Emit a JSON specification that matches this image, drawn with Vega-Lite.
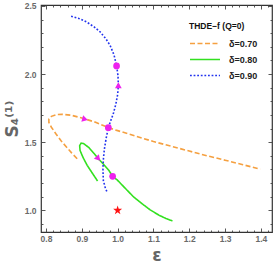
{
  "$schema": "https://vega.github.io/schema/vega-lite/v6.json",
  "width": 231,
  "height": 227,
  "autosize": "none",
  "padding": {"left": 41, "top": 5, "right": 1, "bottom": 41},
  "background": "white",
  "config": {
    "view": {"stroke": "#333333", "strokeWidth": 1.2},
    "axis": {
      "domain": false,
      "grid": false,
      "ticks": true,
      "labelOverlap": false,
      "labelFont": "Liberation Sans",
      "labelFontWeight": "bold",
      "labelFontSize": 8.5,
      "labelColor": "#6a6a6a",
      "tickColor": "#444444",
      "tickWidth": 0.9,
      "titleFont": "DejaVu Sans",
      "titleColor": "#666666",
      "titleFontWeight": "bold"
    }
  },
  "datasets": {
    "curves": [
      {"delta": "δ=0.70", "i": 1, "eps": 0.887, "s4": 1.379},
      {"delta": "δ=0.70", "i": 2, "eps": 0.872, "s4": 1.42},
      {"delta": "δ=0.70", "i": 3, "eps": 0.857, "s4": 1.465},
      {"delta": "δ=0.70", "i": 4, "eps": 0.842, "s4": 1.51},
      {"delta": "δ=0.70", "i": 5, "eps": 0.828, "s4": 1.56},
      {"delta": "δ=0.70", "i": 6, "eps": 0.815, "s4": 1.61},
      {"delta": "δ=0.70", "i": 7, "eps": 0.808, "s4": 1.645},
      {"delta": "δ=0.70", "i": 8, "eps": 0.808, "s4": 1.67},
      {"delta": "δ=0.70", "i": 9, "eps": 0.815, "s4": 1.69},
      {"delta": "δ=0.70", "i": 10, "eps": 0.83, "s4": 1.703},
      {"delta": "δ=0.70", "i": 11, "eps": 0.845, "s4": 1.705},
      {"delta": "δ=0.70", "i": 12, "eps": 0.87, "s4": 1.698},
      {"delta": "δ=0.70", "i": 13, "eps": 0.9, "s4": 1.678},
      {"delta": "δ=0.70", "i": 14, "eps": 0.94, "s4": 1.645},
      {"delta": "δ=0.70", "i": 15, "eps": 0.974, "s4": 1.607},
      {"delta": "δ=0.70", "i": 16, "eps": 1.0, "s4": 1.585},
      {"delta": "δ=0.70", "i": 17, "eps": 1.05, "s4": 1.545},
      {"delta": "δ=0.70", "i": 18, "eps": 1.1, "s4": 1.505},
      {"delta": "δ=0.70", "i": 19, "eps": 1.15, "s4": 1.47},
      {"delta": "δ=0.70", "i": 20, "eps": 1.2, "s4": 1.435},
      {"delta": "δ=0.70", "i": 21, "eps": 1.25, "s4": 1.4},
      {"delta": "δ=0.70", "i": 22, "eps": 1.3, "s4": 1.368},
      {"delta": "δ=0.70", "i": 23, "eps": 1.35, "s4": 1.335},
      {"delta": "δ=0.70", "i": 24, "eps": 1.398, "s4": 1.302},
      {"delta": "δ=0.80", "i": 1, "eps": 0.944, "s4": 1.215},
      {"delta": "δ=0.80", "i": 2, "eps": 0.93, "s4": 1.27},
      {"delta": "δ=0.80", "i": 3, "eps": 0.915, "s4": 1.33},
      {"delta": "δ=0.80", "i": 4, "eps": 0.903, "s4": 1.39},
      {"delta": "δ=0.80", "i": 5, "eps": 0.895, "s4": 1.44},
      {"delta": "δ=0.80", "i": 6, "eps": 0.894, "s4": 1.475},
      {"delta": "δ=0.80", "i": 7, "eps": 0.898, "s4": 1.493},
      {"delta": "δ=0.80", "i": 8, "eps": 0.905, "s4": 1.49},
      {"delta": "δ=0.80", "i": 9, "eps": 0.92, "s4": 1.46},
      {"delta": "δ=0.80", "i": 10, "eps": 0.935, "s4": 1.415},
      {"delta": "δ=0.80", "i": 11, "eps": 0.946, "s4": 1.379},
      {"delta": "δ=0.80", "i": 12, "eps": 0.96, "s4": 1.34},
      {"delta": "δ=0.80", "i": 13, "eps": 0.975, "s4": 1.295},
      {"delta": "δ=0.80", "i": 14, "eps": 0.986, "s4": 1.25},
      {"delta": "δ=0.80", "i": 15, "eps": 1.0, "s4": 1.22},
      {"delta": "δ=0.80", "i": 16, "eps": 1.02, "s4": 1.165},
      {"delta": "δ=0.80", "i": 17, "eps": 1.044, "s4": 1.1},
      {"delta": "δ=0.80", "i": 18, "eps": 1.07, "s4": 1.045},
      {"delta": "δ=0.80", "i": 19, "eps": 1.09, "s4": 1.005},
      {"delta": "δ=0.80", "i": 20, "eps": 1.115, "s4": 0.965},
      {"delta": "δ=0.80", "i": 21, "eps": 1.135, "s4": 0.94},
      {"delta": "δ=0.80", "i": 22, "eps": 1.153, "s4": 0.922},
      {"delta": "δ=0.90", "i": 1, "eps": 0.87, "s4": 2.424},
      {"delta": "δ=0.90", "i": 2, "eps": 0.89, "s4": 2.41},
      {"delta": "δ=0.90", "i": 3, "eps": 0.913, "s4": 2.383},
      {"delta": "δ=0.90", "i": 4, "eps": 0.935, "s4": 2.345},
      {"delta": "δ=0.90", "i": 5, "eps": 0.951, "s4": 2.31},
      {"delta": "δ=0.90", "i": 6, "eps": 0.967, "s4": 2.26},
      {"delta": "δ=0.90", "i": 7, "eps": 0.979, "s4": 2.21},
      {"delta": "δ=0.90", "i": 8, "eps": 0.99, "s4": 2.14},
      {"delta": "δ=0.90", "i": 9, "eps": 0.997, "s4": 2.06},
      {"delta": "δ=0.90", "i": 10, "eps": 1.001, "s4": 1.99},
      {"delta": "δ=0.90", "i": 11, "eps": 1.002, "s4": 1.918},
      {"delta": "δ=0.90", "i": 12, "eps": 1.0, "s4": 1.85},
      {"delta": "δ=0.90", "i": 13, "eps": 0.995, "s4": 1.78},
      {"delta": "δ=0.90", "i": 14, "eps": 0.988, "s4": 1.71},
      {"delta": "δ=0.90", "i": 15, "eps": 0.981, "s4": 1.66},
      {"delta": "δ=0.90", "i": 16, "eps": 0.974, "s4": 1.607},
      {"delta": "δ=0.90", "i": 17, "eps": 0.968, "s4": 1.53},
      {"delta": "δ=0.90", "i": 18, "eps": 0.963, "s4": 1.45},
      {"delta": "δ=0.90", "i": 19, "eps": 0.96, "s4": 1.37},
      {"delta": "δ=0.90", "i": 20, "eps": 0.959, "s4": 1.3},
      {"delta": "δ=0.90", "i": 21, "eps": 0.96, "s4": 1.22},
      {"delta": "δ=0.90", "i": 22, "eps": 0.966, "s4": 1.16},
      {"delta": "δ=0.90", "i": 23, "eps": 0.972, "s4": 1.127}
    ],
    "dots": [
      {"eps": 0.997, "s4": 2.06},
      {"eps": 0.974, "s4": 1.607},
      {"eps": 0.986, "s4": 1.25}
    ],
    "arrows": [
      {"eps": 1.002, "s4": 1.918, "heading": 0},
      {"eps": 0.909, "s4": 1.668, "heading": 106},
      {"eps": 0.946, "s4": 1.379, "heading": 138}
    ],
    "fixed": [{"eps": 1.0, "s4": 1.0}]
  },
  "layer": [
    {
      "encoding": {
        "x": {
          "field": "eps", "type": "quantitative",
          "scale": {"domain": [0.786, 1.431], "nice": false, "zero": false},
          "axis": {
            "orient": "bottom",
            "title": "ε",
            "titleFontSize": 17,
            "titlePadding": 3,
            "values": [0.8,0.82,0.84,0.86,0.88,0.9,0.92,0.94,0.96,0.98,1.0,1.02,1.04,1.06,1.08,1.1,1.12,1.14,1.16,1.18,1.2,1.22,1.24,1.26,1.28,1.3,1.32,1.34,1.36,1.38,1.4,1.42],
            "labelExpr": "abs(datum.value*10 - round(datum.value*10)) < 0.001 ? format(datum.value, '.1f') : ''",
            "tickSize": {"condition": {"test": "abs(datum.value*10 - round(datum.value*10)) < 0.001", "value": -4}, "value": -2},
            "labelPadding": 6
          }
        },
        "y": {
          "field": "s4", "type": "quantitative",
          "scale": {"domain": [0.841, 2.507], "nice": false, "zero": false},
          "axis": {
            "orient": "left",
            "title": "S₄⁽¹⁾",
            "titleFontSize": 17,
            "titlePadding": 3,
            "values": [0.9,1.0,1.1,1.2,1.3,1.4,1.5,1.6,1.7,1.8,1.9,2.0,2.1,2.2,2.3,2.4,2.5],
            "labelExpr": "abs(datum.value*2 - round(datum.value*2)) < 0.001 ? format(datum.value, '.1f') : ''",
            "tickSize": {"condition": {"test": "abs(datum.value*2 - round(datum.value*2)) < 0.001", "value": -4}, "value": -2},
            "labelPadding": 9
          }
        }
      },
      "layer": [
        {
          "data": {"name": "curves"},
          "mark": {"type": "line", "strokeWidth": 1.6},
          "encoding": {
            "color": {
              "field": "delta", "type": "nominal",
              "scale": {"domain": ["δ=0.70", "δ=0.80", "δ=0.90"], "range": ["#F5A040", "#33E020", "#2233EE"]},
              "legend": {
                "orient": "none",
                "legendX": 148,
                "legendY": 17,
                "title": "THDE−f (Q=0)",
                "titleFont": "Liberation Sans",
                "titleFontSize": 8.5,
                "titleFontWeight": "bold",
                "titleColor": "#111111",
                "titlePadding": 5,
                "labelFont": "Liberation Sans",
                "labelFontSize": 9,
                "labelFontWeight": "bold",
                "labelColor": "#222222",
                "symbolType": "stroke",
                "symbolSize": 900,
                "symbolStrokeWidth": 1.6,
                "clipHeight": 16,
                "labelOffset": 8,
                "rowPadding": 0
              }
            },
            "strokeDash": {
              "field": "delta", "type": "nominal",
              "scale": {"domain": ["δ=0.70", "δ=0.80", "δ=0.90"], "range": [[5, 2.5], [1, 0], [1.8, 1.8]]},
              "legend": null
            },
            "order": {"field": "i"}
          }
        },
        {
          "data": {"name": "dots"},
          "mark": {"type": "point", "shape": "circle", "filled": true, "color": "#EE22EE", "size": 45, "opacity": 1}
        },
        {
          "data": {"name": "arrows"},
          "mark": {"type": "point", "shape": "triangle-up", "filled": true, "color": "#EE22EE", "size": 45, "opacity": 1},
          "encoding": {
            "angle": {"field": "heading", "type": "quantitative", "scale": {"domain": [0, 360], "range": [0, 360]}}
          }
        },
        {
          "data": {"name": "fixed"},
          "mark": {"type": "point", "shape": "M0,-1L0.2245,-0.309L0.951,-0.309L0.3633,0.118L0.5878,0.809L0,0.382L-0.5878,0.809L-0.3633,0.118L-0.951,-0.309L-0.2245,-0.309Z", "filled": true, "color": "#FF1111", "size": 90, "opacity": 1}
        }
      ]
    },
    {
      "data": {"name": "fixed"},
      "mark": {"type": "point", "opacity": 0, "size": 1},
      "encoding": {
        "x": {
          "field": "eps", "type": "quantitative",
          "axis": {
            "orient": "top", "title": null, "labels": false,
            "values": [0.8,0.82,0.84,0.86,0.88,0.9,0.92,0.94,0.96,0.98,1.0,1.02,1.04,1.06,1.08,1.1,1.12,1.14,1.16,1.18,1.2,1.22,1.24,1.26,1.28,1.3,1.32,1.34,1.36,1.38,1.4,1.42],
            "tickSize": {"condition": {"test": "abs(datum.value*10 - round(datum.value*10)) < 0.001", "value": -4}, "value": -2}
          }
        },
        "y": {
          "field": "s4", "type": "quantitative",
          "axis": {
            "orient": "right", "title": null, "labels": false,
            "values": [0.9,1.0,1.1,1.2,1.3,1.4,1.5,1.6,1.7,1.8,1.9,2.0,2.1,2.2,2.3,2.4,2.5],
            "tickSize": {"condition": {"test": "abs(datum.value*2 - round(datum.value*2)) < 0.001", "value": -4}, "value": -2}
          }
        }
      }
    }
  ],
  "resolve": {"axis": {"x": "independent", "y": "independent"}}
}
